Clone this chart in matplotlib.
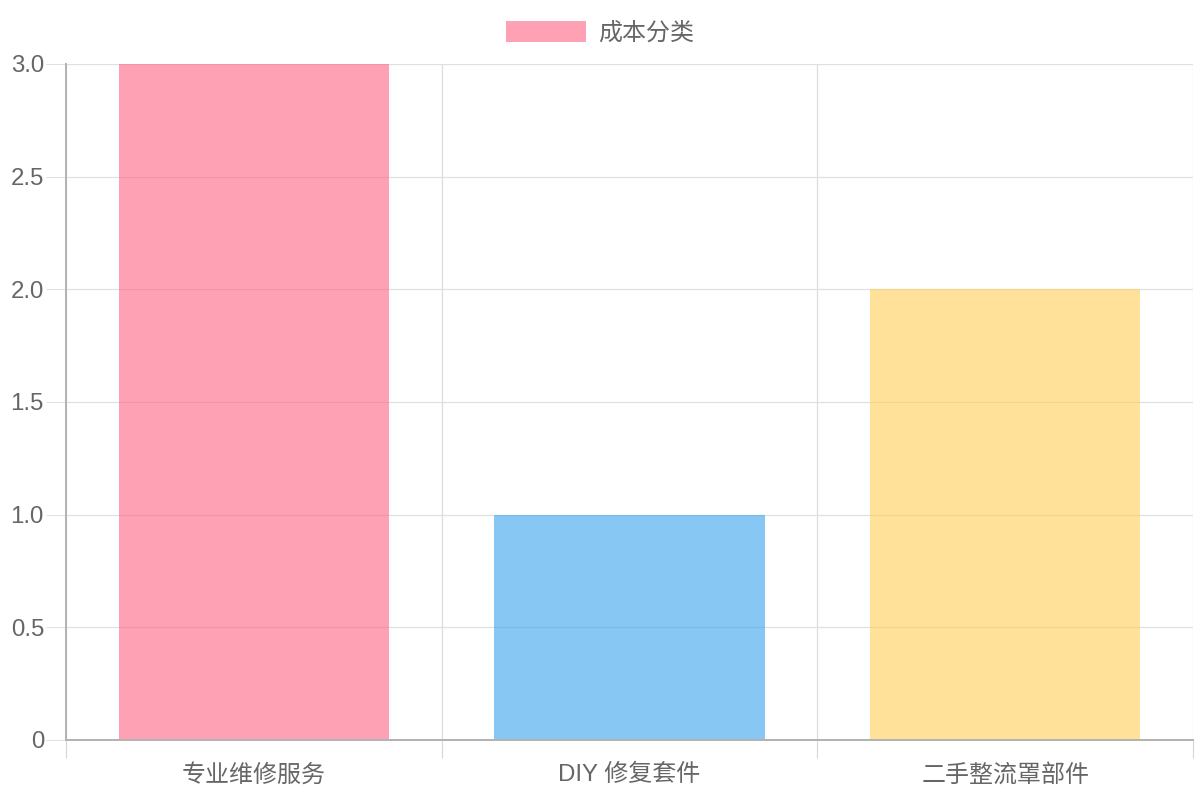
import matplotlib
matplotlib.use("Agg")
import matplotlib.pyplot as plt
import numpy as np

plt.rcParams['font.family'] = ['Liberation Sans', 'Noto Sans CJK SC', 'DejaVu Sans']

# 数据
categories = ['专业维修服务', 'DIY 修复套件', '二手整流罩部件']
values = [3, 1, 2]
colors = [(255/255, 99/255, 132/255, 0.6),
          (54/255, 162/255, 235/255, 0.6),
          (255/255, 206/255, 86/255, 0.6)]
legend_label = '成本分类'
y_ticks = [0, 0.5, 1.0, 1.5, 2.0, 2.5, 3.0]
y_tick_labels = ['0', '0.5', '1.0', '1.5', '2.0', '2.5', '3.0']

px = 72 / 100  # 1 像素对应的磅数
fs = 24 * px
text_color = '#666666'
grid_color = '#e0e0e0'
axis_color = '#b3b3b3'

fig = plt.figure(figsize=(12, 8), dpi=100)
ax = fig.add_axes([66/1200, 60/800, (1193-66)/1200, (740-64)/800])

x = np.arange(len(categories))
bars = ax.bar(x, values, width=0.72, color=colors, linewidth=0, zorder=2)

ax.set_xlim(-0.5, len(categories) - 0.5)
ax.set_ylim(0, 3.0)
ax.set_axisbelow(True)

# y 轴
ax.set_yticks(y_ticks)
ax.set_yticklabels(y_tick_labels)
ax.tick_params(axis='y', length=20*px, width=1*px, color=grid_color, pad=2*px,
               labelsize=fs, labelcolor=text_color)
ax.yaxis.grid(True, color=grid_color, linewidth=1.2*px)

# x 轴
ax.set_xticks(x)
ax.set_xticklabels(categories)
ax.set_xticks(np.arange(-0.5, len(categories)), minor=True)
ax.tick_params(axis='x', which='major', length=0, pad=24*px,
               labelsize=fs, labelcolor=text_color)
ax.tick_params(axis='x', which='minor', length=18*px, width=1.2*px, color='#d8d8d8')
ax.xaxis.grid(True, which='minor', color='#dcdcdc', linewidth=1.2*px)

for s in ['top', 'right']:
    ax.spines[s].set_visible(False)
for s in ['left', 'bottom']:
    ax.spines[s].set_color(axis_color)
    ax.spines[s].set_linewidth(2*px)

# 图例
handle = plt.Rectangle((0, 0), 1, 1, facecolor=colors[0], linewidth=0)
fig.legend([handle], [legend_label], loc='upper center',
           bbox_to_anchor=(0.5, 1 - 9/800), frameon=False, borderpad=0,
           fontsize=fs, labelcolor=text_color, handlelength=80/24,
           handleheight=1.0, handletextpad=0.5)

plt.savefig('out.png', dpi=100)
